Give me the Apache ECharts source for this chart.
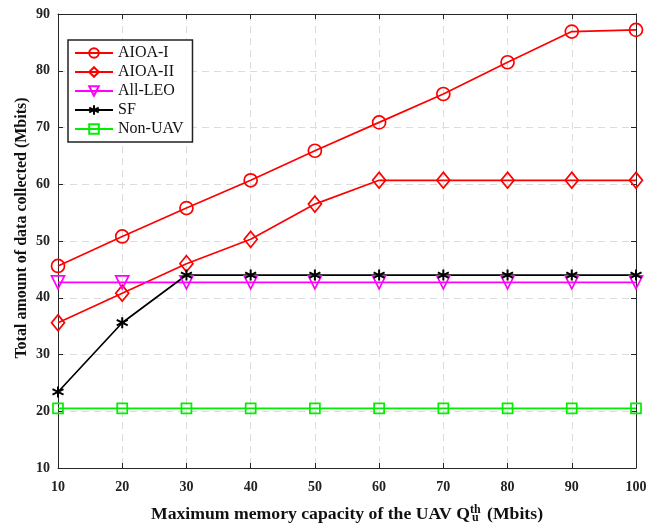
<!DOCTYPE html>
<html>
<head>
<meta charset="utf-8">
<script src="https://cdn.jsdelivr.net/npm/echarts@6/dist/echarts.min.js"></script>
<style>
  html, body { margin: 0; padding: 0; background: #fff; }
  #main { width: 660px; height: 523px; }
</style>
</head>
<body>
<div id="main"></div>
<script>
// memory capacity (Mbits)
var capacity = [10, 20, 30, 40, 50, 60, 70, 80, 90, 100];
var aioa1 = [45.6, 50.8, 55.8, 60.7, 65.9, 70.9, 75.9, 81.5, 86.9, 87.2];
var aioa2 = [35.6, 40.8, 46.0, 50.3, 56.5, 60.7, 60.7, 60.7, 60.7, 60.7];
var allLeo = [42.7, 42.7, 42.7, 42.7, 42.7, 42.7, 42.7, 42.7, 42.7, 42.7];
var sf = [23.4, 35.6, 44.0, 44.0, 44.0, 44.0, 44.0, 44.0, 44.0, 44.0];
var nonUav = [20.5, 20.5, 20.5, 20.5, 20.5, 20.5, 20.5, 20.5, 20.5, 20.5];

var font = "'Liberation Serif', 'Times New Roman', serif";
var asterisk = 'path://M0,-10L0,10M-9,-5L9,5M-9,5L9,-5';

function pairs(ys) {
  return capacity.map(function (x, i) { return [x, ys[i]]; });
}

function makeSeries(name, ys, color, symbol, size, extra) {
  var s = {
    name: name,
    type: 'line',
    data: pairs(ys),
    symbol: symbol,
    symbolSize: size,
    lineStyle: { color: color, width: 1.7 },
    itemStyle: { color: 'transparent', borderColor: color, borderWidth: 1.7 },
    z: 3
  };
  for (var k in extra) s[k] = extra[k];
  return s;
}

var myChart = echarts.init(document.getElementById('main'));

var axisLine = { show: true, onZero: false, lineStyle: { color: '#262626', width: 1 } };
var splitLine = { show: true, lineStyle: { color: '#dcdcdc', type: [7, 5], width: 1 } };

var option = {
  animation: false,
  backgroundColor: '#fff',
  grid: { left: 58, right: 24, top: 14, bottom: 55, outerBoundsMode: 'none', containLabel: false },
  legend: {
    orient: 'vertical',
    left: 68,
    top: 40,
    padding: [5, 9, 5, 6],
    itemGap: 3,
    itemWidth: 38,
    itemHeight: 12,
    borderColor: '#222',
    borderWidth: 1.5,
    backgroundColor: '#fff',
    textStyle: { fontFamily: font, fontSize: 16, color: '#111' },
    data: ['AIOA-I', 'AIOA-II', 'All-LEO', 'SF', 'Non-UAV']
  },
  xAxis: [{
    type: 'value',
    min: 10, max: 100, interval: 10,
    axisLine: axisLine,
    axisTick: { show: true, inside: true, length: 5, lineStyle: { color: '#262626' } },
    axisLabel: { fontFamily: font, fontWeight: 'bold', fontSize: 14, color: '#222', margin: 12 },
    splitLine: splitLine,
    name: '{t|Maximum memory capacity of the UAV Q}{s|th}{t| (Mbits)}',
    nameLocation: 'middle',
    nameGap: 36,
    nameTextStyle: {
      rich: {
        t: { fontFamily: font, fontWeight: 'bold', fontSize: 17.7, color: '#111' },
        s: { fontFamily: font, fontWeight: 'bold', fontSize: 12, color: '#111', verticalAlign: 'top', padding: [0, 2, 9, 0] }
      }
    }
  }, {
    type: 'value', position: 'top',
    min: 10, max: 100, interval: 10,
    axisLine: axisLine,
    axisTick: { show: true, inside: true, length: 5, lineStyle: { color: '#262626' } },
    axisLabel: { show: false },
    splitLine: { show: false }
  }],
  yAxis: [{
    type: 'value',
    min: 10, max: 90, interval: 10,
    axisLine: axisLine,
    axisTick: { show: true, inside: true, length: 5, lineStyle: { color: '#262626' } },
    axisLabel: { fontFamily: font, fontWeight: 'bold', fontSize: 14, color: '#222', margin: 8 },
    splitLine: splitLine
  }, {
    type: 'value', position: 'right',
    min: 10, max: 90, interval: 10,
    axisLine: axisLine,
    axisTick: { show: true, inside: true, length: 5, lineStyle: { color: '#262626' } },
    axisLabel: { show: false },
    splitLine: { show: false }
  }],
  graphic: [{
    type: 'text',
    x: 22,
    y: 228,
    rotation: Math.PI / 2,
    style: {
      text: 'Total amount of data collected (Mbits)',
      fontFamily: font, fontWeight: 'bold', fontSize: 16, fill: '#111',
      align: 'center', verticalAlign: 'middle'
    }
  }, {
    type: 'text',
    x: 472,
    y: 512,
    style: { text: 'u', fontFamily: font, fontWeight: 'bold', fontSize: 12, fill: '#111' }
  }],
  series: [
    makeSeries('AIOA-I', aioa1, '#ff0000', 'circle', 13, {}),
    makeSeries('AIOA-II', aioa2, '#ff0000', 'diamond', [13, 16], {}),
    makeSeries('All-LEO', allLeo, '#ff00ff', 'triangle', 13, { symbolRotate: 180 }),
    makeSeries('SF', sf, '#000000', asterisk, 11, {
      itemStyle: { color: '#000', borderColor: '#000', borderWidth: 2 }
    }),
    makeSeries('Non-UAV', nonUav, '#00ee00', 'rect', 10, {})
  ]
};
myChart.setOption(option);
</script>
</body>
</html>
